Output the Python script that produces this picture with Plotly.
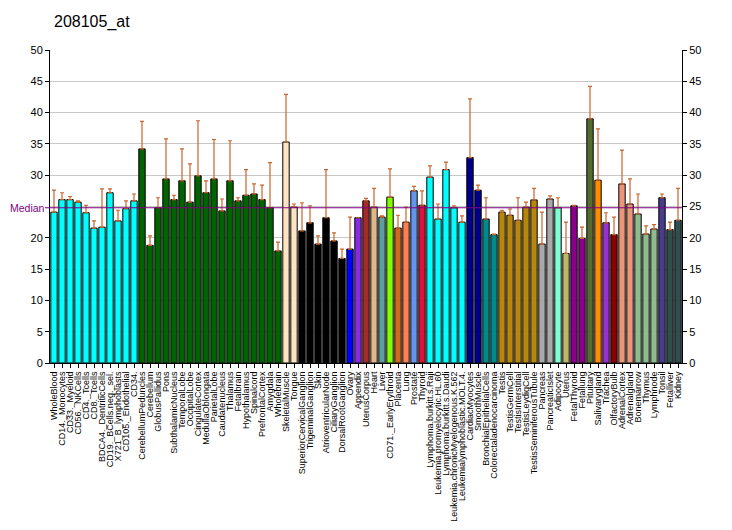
import plotly.graph_objects as go

categories = ["WholeBlood","CD14._Monocytes","CD33._Myeloid","CD56._NKCells","CD4._Tcells","CD8._Tcells",
"BDCA4._DentriticCells","CD19._BCells.neg._sel.","X721_B_lymphoblasts","CD105._Endothelial","CD34.",
"CerebellumPeduncles","Cerebellum","GlobusPallidus","Pons","SubthalamicNucleus","TemporalLobe",
"OccipitalLobe","CingulateCortex","MedullaOblongata","ParietalLobe","Caudatenucleus","Thalamus",
"Fetalbrain","Hypothalamus","Spinalcord","PrefrontalCortex","Amygdala","Wholebrain","SkeletalMuscle",
"Tongue","SuperiorCervicalGanglion","TrigeminalGanglion","Skin","AtrioventricularNode","CiliaryGanglion",
"DorsalRootGanglion","Ovary","Appendix","UterusCorpus","Heart","Liver","CD71._EarlyErythroid","Placenta",
"Lung","Prostate","Thyroid","Lymphoma.burkitt.s.Raji","Leukemia.promyelocytic.HL.60",
"Lymphoma.burkitt.s.Daudi","Leukemia.chronicMyelogenous.K.562","Leukemialymphoblastic.MOLT.4.",
"CardiacMyocytes","SmoothMuscle","BronchialEpithelialCells","Colorectaladenocarcinoma","Testis",
"TestisGermCell","TestisInterstitial","TestisLeydigCell","TestisSeminiferousTubule","Pancreas",
"PancreaticIslet","Adipocyte","Uterus","FetalThyroid","Fetallung","Pituitary","Salivarygland","Trachea",
"OlfactoryBulb","AdrenalCortex","Adrenalgland","Bonemarrow","Thymus","Lymphnode","Tonsil","Fetalliver",
"Kidney"]

values = [24.1,26.1,26.1,25.7,24.0,21.55,21.7,27.2,22.7,24.65,25.9,
34.2,18.8,24.8,29.4,26.1,29.1,25.7,29.9,27.2,29.4,24.3,29.1,25.9,26.8,27.0,26.1,24.8,17.9,
35.3,24.9,21.1,22.4,19.0,23.2,19.5,16.7,18.2,23.2,25.9,24.9,23.3,26.5,21.55,22.5,27.5,25.2,
29.7,23.0,30.9,24.8,22.5,32.8,27.6,23.0,20.5,24.1,23.6,22.8,24.9,26.05,19.0,26.2,24.8,17.5,
25.1,19.9,39.0,29.2,22.4,20.5,28.6,25.4,23.8,20.6,21.4,26.4,21.3,22.8]

err_top = [27.6,27.2,26.6,25.9,25.2,22.7,27.8,27.8,24.4,25.9,27.0,
38.6,20.3,26.4,35.8,26.8,34.2,31.8,38.7,29.1,35.7,26.2,35.5,26.4,30.9,28.6,28.4,32.0,19.3,
42.9,25.4,25.6,25.1,20.3,30.9,20.8,18.2,23.3,23.2,26.3,27.9,23.5,31.0,23.6,24.9,28.2,27.5,
31.5,25.4,32.1,25.1,23.5,42.2,28.4,26.4,20.6,24.4,24.6,26.4,25.7,27.9,24.1,26.7,26.4,22.5,
25.2,21.7,44.2,37.4,24.0,23.3,34.0,29.4,27.0,21.9,22.1,27.0,22.5,27.9]

colors = (["#00FFFF"]*11 + ["#006400"]*18 + ["#FFE4C4"]*2 + ["#000000"]*6 +
          ["#0000FF","#8A2BE2","#A52A2A","#DEB887","#5F9EA0","#7FFF00","#D2691E","#FF7F50",
           "#6495ED","#DC143C"] + ["#00FFFF"]*5 + ["#00008B"]*2 + ["#008B8B"]*2 +
          ["#B8860B"]*5 + ["#A9A9A9"]*2 + ["#7FFFD4","#BDB76B","#8B008B","#8B008B","#556B2F",
           "#FF8C00","#9932CC","#8B0000","#E9967A","#E9967A","#8FBC8F","#8FBC8F","#8FBC8F",
           "#483D8B","#2F4F4F","#2F4F4F"])

median_value = 24.8
y_ticks = [0,5,10,15,20,25,30,35,40,45,50]
y_ticks_left = [0,5,10,15,20,30,35,40,45,50]

err_plus = [max(t - v, 0) for t, v in zip(err_top, values)]
xs = list(range(len(categories)))

# page body has an 8px default margin; the figure is sized to fit inside the window
W, H = 724, 522

fig = go.Figure()
fig.add_trace(go.Bar(
    x=xs, y=values, marker=dict(color=colors, line=dict(color="#000000", width=1)),
    error_y=dict(type="data", symmetric=False, array=err_plus, arrayminus=[0]*len(values),
                 color="#C8642D", thickness=1.2, width=2),
    width=0.8, showlegend=False, hoverinfo="x+y"))
fig.add_trace(go.Scatter(x=[0], y=[0], yaxis="y2", mode="markers",
                         marker=dict(opacity=0), showlegend=False, hoverinfo="skip"))

fig.add_shape(type="line", xref="paper", yref="y", x0=-0.008, x1=1, y0=median_value, y1=median_value,
              line=dict(color="#800080", width=1.2))
fig.add_annotation(xref="paper", yref="y", x=-0.007, y=median_value, text="Median", showarrow=False,
                   xanchor="right", borderpad=0,
                   font=dict(family="Liberation Sans, Arial", size=10.5, color="#800080"))

fig.update_layout(
    width=W, height=H, margin=dict(l=42, r=50, t=42, b=167, autoexpand=False),
    paper_bgcolor="white", plot_bgcolor="white",
    title=dict(text="208105_at", x=46/W, xanchor="left", y=1-13/H, yanchor="middle",
               font=dict(family="Liberation Sans, Arial", size=16, color="#000000")),
    font=dict(family="Liberation Sans, Arial", size=11, color="#000000"),
    bargap=0.2,
    xaxis=dict(range=[-0.5, len(categories)-0.5], tickmode="array", tickvals=xs, ticktext=categories,
               tickangle=-90, tickfont=dict(size=9), ticks="outside", ticklen=4, tickcolor="#000",
               showline=True, linecolor="#000", linewidth=1, showgrid=False, zeroline=False,
               automargin=False),
    yaxis=dict(range=[0, 50], tickvals=y_ticks_left, ticks="outside", ticklen=4, tickcolor="#000",
               showline=True, linecolor="#000", linewidth=1, showgrid=True, gridcolor="#C8C8C8",
               zeroline=False, tickfont=dict(size=11), automargin=False),
    yaxis2=dict(range=[0, 50], tickvals=y_ticks, overlaying="y", side="right", ticks="outside",
                ticklen=4, tickcolor="#000", showline=True, linecolor="#000", linewidth=1,
                showgrid=False, zeroline=False, tickfont=dict(size=11), automargin=False),
)
fig.add_shape(type="line", xref="paper", yref="y", x0=0, x1=1, y0=25, y1=25,
              line=dict(color="#C8C8C8", width=1), layer="below")

fig.write_html("out.html")
